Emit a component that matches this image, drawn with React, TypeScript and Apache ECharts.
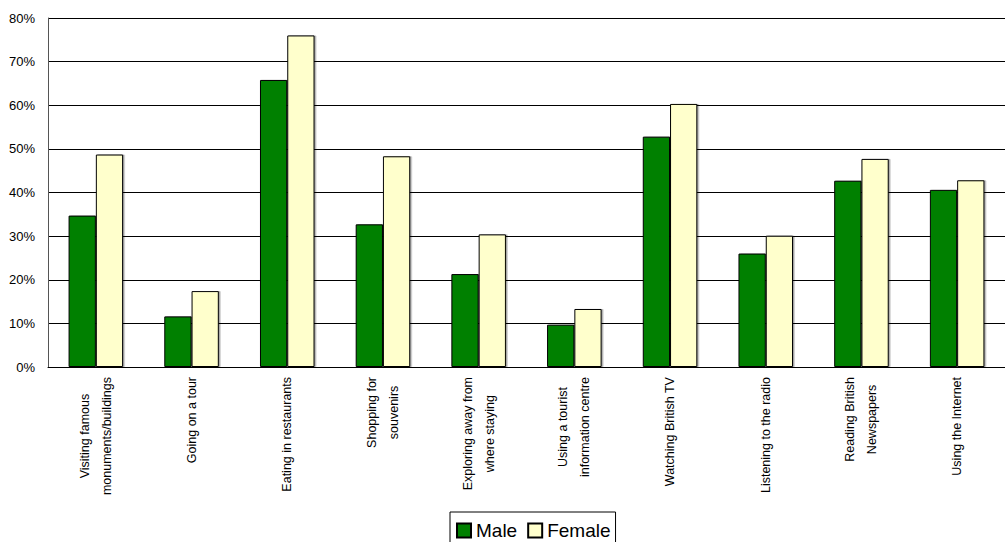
import React, { useEffect, useRef } from "react";
import * as echarts from "echarts";

const categories = [
  "Visiting famous\nmonuments/buildings",
  "Going on a tour",
  "Eating in restaurants",
  "Shopping for\nsouvenirs",
  "Exploring away from\nwhere staying",
  "Using a tourist\ninformation centre",
  "Watching British TV",
  "Listening to the radio",
  "Reading British\nNewspapers",
  "Using the Internet",
];
const maleValues = [34.7, 11.6, 65.8, 32.7, 21.3, 9.7, 52.8, 26.0, 42.7, 40.6];
const femaleValues = [48.7, 17.4, 76.0, 48.3, 30.4, 13.3, 60.3, 30.1, 47.7, 42.8];
const seriesNames = ["Male", "Female"];
const yTicks = { min: 0, max: 80, interval: 10 };

const NARROW = "'Liberation Sans Narrow', 'Arial Narrow', 'Liberation Sans', Arial, sans-serif";
const REG = "'Liberation Sans', Arial, sans-serif";

export default function App() {
  const ref = useRef<HTMLDivElement>(null);
  useEffect(() => {
    document.body.style.margin = "0";
    document.body.style.overflow = "hidden";
    if (!ref.current) return;
    const chart = echarts.init(ref.current, undefined, { renderer: "svg" });
    const barStyle = (color: string) => ({
      color,
      borderColor: "#000",
      borderWidth: 1,
      shadowColor: "rgba(0,0,0,0.35)",
      shadowOffsetX: 1.5,
      shadowOffsetY: 0,
      shadowBlur: 0,
    });
    chart.setOption({
      animation: false,
      backgroundColor: "#fff",
      grid: { left: 48, top: 18, right: -9, bottom: 175, containLabel: false },
      legend: {
        left: 450,
        top: 512,
        orient: "horizontal",
        borderColor: "#000",
        borderWidth: 1,
        padding: [9, 5, 9, 6],
        itemWidth: 14,
        itemHeight: 14,
        itemGap: 10,
        icon: "rect",
        textStyle: { fontSize: 19, fontFamily: REG, color: "#000" },
        data: seriesNames,
      },
      xAxis: {
        type: "category",
        data: categories,
        axisLine: { lineStyle: { color: "#000", width: 1 } },
        axisTick: { show: false },
        axisLabel: {
          interval: 0,
          rotate: 90,
          margin: 10,
          formatter: (v: string) =>
            v
              .split("\n")
              .map((s) => `{c|${s}}`)
              .join("\n"),
          rich: {
            c: {
              align: "center",
              fontSize: 12.5,
              lineHeight: 22,
              fontFamily: NARROW,
              color: "#000",
            },
          },
        },
      },
      yAxis: {
        type: "value",
        min: yTicks.min,
        max: yTicks.max,
        interval: yTicks.interval,
        axisLine: { show: true, lineStyle: { color: "#555", width: 1 } },
        axisTick: { show: false },
        axisLabel: {
          formatter: "{value}%",
          fontSize: 13,
          fontFamily: NARROW,
          color: "#000",
          margin: 13,
        },
        splitLine: { show: true, lineStyle: { color: "#000", width: 1 } },
      },
      series: [
        {
          name: seriesNames[0],
          type: "bar",
          data: maleValues,
          barGap: "0%",
          barCategoryGap: "43%",
          itemStyle: barStyle("#008000"),
        },
        {
          name: seriesNames[1],
          type: "bar",
          data: femaleValues,
          barGap: "0%",
          barCategoryGap: "43%",
          itemStyle: barStyle("#FFFFCC"),
        },
      ],
    });
    return () => chart.dispose();
  }, []);
  return <div ref={ref} style={{ width: 1005, height: 542 }} />;
}
